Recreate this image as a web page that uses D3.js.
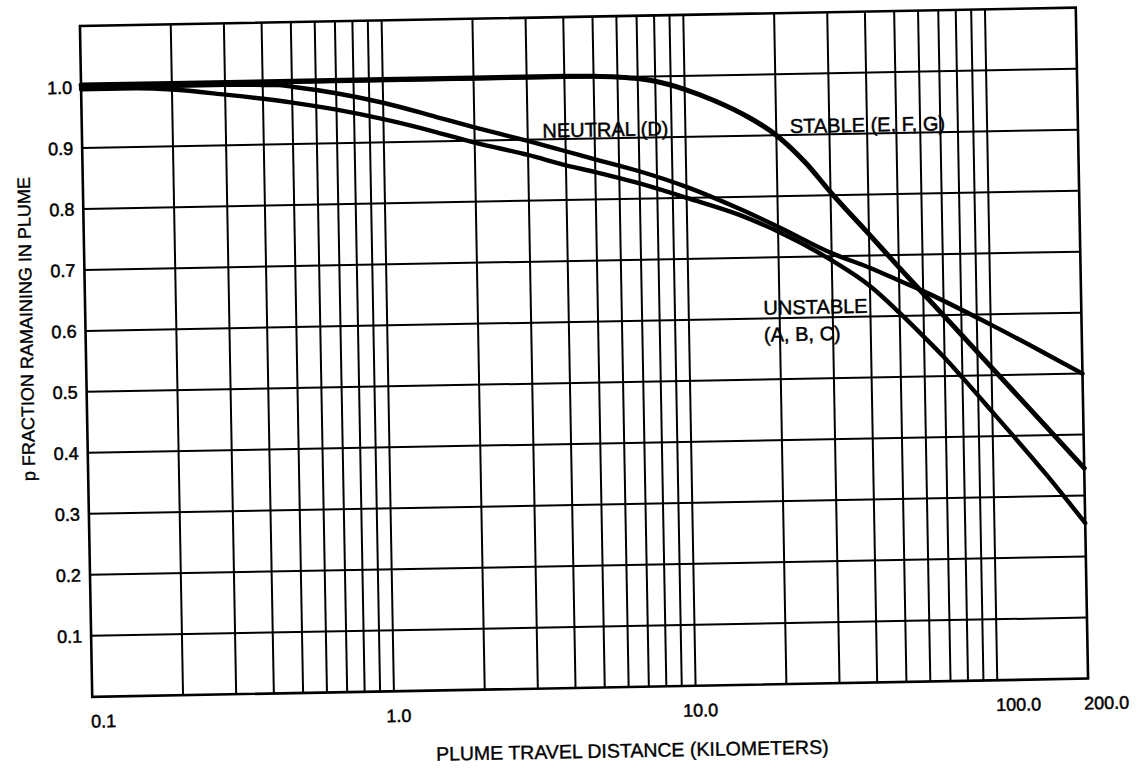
<!DOCTYPE html>
<html>
<head>
<meta charset="utf-8">
<script src="https://cdn.jsdelivr.net/npm/d3@7"></script>
<style>
  html, body { margin: 0; padding: 0; background: #fff; }
  svg { display: block; }
  text { font-family: "Liberation Sans", Arial, Helvetica, sans-serif; fill: #000; }
</style>
</head>
<body>
<svg id="chart" width="1140" height="771"></svg>
<script>
// ---------- data ----------
const xDomain = [0.1, 200];
const yDomain = [0, 1.1];

const xGridValues = [0.2,0.3,0.4,0.5,0.6,0.7,0.8,0.9,1,2,3,4,5,6,7,8,9,10,20,30,40,50,60,70,80,90,100];
const yGridValues = [0.1,0.2,0.3,0.4,0.5,0.6,0.7,0.8,0.9,1.0];

const xTickValues = [0.1, 1, 10, 100, 200];
const xTickLabels = ["0.1", "1.0", "10.0", "100.0", "200.0"];
const yTickValues = [0.1,0.2,0.3,0.4,0.5,0.6,0.7,0.8,0.9,1.0];
const yTickLabels = ["0.1","0.2","0.3","0.4","0.5","0.6","0.7","0.8","0.9","1.0"];

const stableX = [0.1, 0.5, 1, 2, 4, 5, 6, 7, 8, 10, 12.6, 16, 20, 25, 30, 40, 50, 60, 70, 80, 100, 150, 200];
const stableY = [1.003, 1.003, 1.003, 1.003, 1.003, 1.002, 1.0, 0.997, 0.992, 0.978, 0.958, 0.932, 0.9, 0.853, 0.805, 0.735, 0.68, 0.636, 0.599, 0.567, 0.513, 0.415, 0.345];

const neutralX = [0.1, 0.3, 0.45, 0.5, 0.7, 1, 1.5, 2, 3, 4, 5, 7, 10, 15, 20, 30, 40, 50, 60, 100, 150, 200];
const neutralY = [0.999, 0.999, 0.997, 0.994, 0.982, 0.965, 0.94, 0.922, 0.898, 0.88, 0.866, 0.845, 0.818, 0.78, 0.75, 0.705, 0.68, 0.658, 0.64, 0.583, 0.535, 0.50];

const unstableX = [0.1, 0.15, 0.2, 0.3, 0.5, 0.7, 1, 1.5, 2, 3, 4, 5, 7, 10, 15, 20, 30, 40, 50, 60, 70, 80, 100, 150, 200];
const unstableY = [0.996, 0.996, 0.993, 0.983, 0.968, 0.955, 0.938, 0.915, 0.897, 0.875, 0.857, 0.845, 0.825, 0.80, 0.77, 0.742, 0.693, 0.65, 0.605, 0.565, 0.53, 0.497, 0.44, 0.335, 0.255];

const curveLabels = [
  { text: "NEUTRAL (D)", x: 3.36, y: 0.903 },
  { text: "STABLE (E, F, G)", x: 22.2, y: 0.903 },
  { text: "UNSTABLE", x: 17.7, y: 0.606 },
  { text: "(A, B, C)", x: 17.7, y: 0.562 }
];

const xTitle = "PLUME TRAVEL DISTANCE (KILOMETERS)";
const yTitle = "p FRACTION RAMAINING IN PLUME";

// ---------- layout ----------
const W = 1140, H = 771;
const plot = { left: 86, right: 1082, top: 16.75, bottom: 687.75 };
const tilt = -1.05; // the scanned sheet is slightly rotated

const svg = d3.select("#chart");
const g = svg.append("g")
  .attr("transform", `rotate(${tilt}, ${(plot.left + plot.right) / 2}, ${(plot.top + plot.bottom) / 2})`);

const x = d3.scaleLog().domain(xDomain).range([plot.left, plot.right]);
const y = d3.scaleLinear().domain(yDomain).range([plot.bottom, plot.top]);

// grid
g.append("g").selectAll("line").data(xGridValues).join("line")
  .attr("x1", d => x(d)).attr("x2", d => x(d))
  .attr("y1", plot.top).attr("y2", plot.bottom)
  .attr("stroke", "#000").attr("stroke-width", 2);

g.append("g").selectAll("line").data(yGridValues).join("line")
  .attr("x1", plot.left).attr("x2", plot.right)
  .attr("y1", d => y(d)).attr("y2", d => y(d))
  .attr("stroke", "#000").attr("stroke-width", 2);

// frame
g.append("rect")
  .attr("x", plot.left).attr("y", plot.top)
  .attr("width", plot.right - plot.left).attr("height", plot.bottom - plot.top)
  .attr("fill", "none").attr("stroke", "#000").attr("stroke-width", 2.6);

// curves
const line = d3.line()
  .x(d => x(d[0])).y(d => y(d[1]))
  .curve(d3.curveMonotoneX);

const series = [
  { xs: unstableX, ys: unstableY, w: 4.4 },
  { xs: neutralX, ys: neutralY, w: 4.4 },
  { xs: stableX, ys: stableY, w: 5 }
];
g.append("g").selectAll("path").data(series).join("path")
  .attr("d", s => line(d3.zip(s.xs, s.ys)))
  .attr("fill", "none").attr("stroke", "#000")
  .attr("stroke-width", s => s.w)
  .attr("stroke-linejoin", "round").attr("stroke-linecap", "round");

// y tick labels
const yAxis = d3.axisLeft(y).tickValues(yTickValues)
  .tickFormat((d, i) => yTickLabels[i]).tickSize(0).tickPadding(9);
const ya = g.append("g").attr("transform", `translate(${plot.left},0)`).call(yAxis);
ya.select(".domain").remove();
ya.selectAll("text")
  .attr("font-size", 18).attr("font-family", '"Liberation Sans", Arial, sans-serif')
  .attr("stroke", "#000").attr("stroke-width", 0.5).attr("dy", "0.34em");

// x tick labels
const xAxis = d3.axisBottom(x).tickValues(xTickValues)
  .tickFormat((d, i) => xTickLabels[i]).tickSize(0).tickPadding(18);
const xa = g.append("g").attr("transform", `translate(0,${plot.bottom})`).call(xAxis);
xa.select(".domain").remove();
xa.selectAll("text")
  .attr("font-size", 18).attr("font-family", '"Liberation Sans", Arial, sans-serif')
  .attr("stroke", "#000").attr("stroke-width", 0.5)
  .attr("text-anchor", (d, i) => (i === 0 || i >= 3) ? "start" : "middle")
  .attr("dx", (d, i) => i === 0 ? -2 : (i === 3 ? -2 : (i === 4 ? -5 : 4)));

// curve labels
g.append("g").selectAll("text").data(curveLabels).join("text")
  .attr("x", d => x(d.x)).attr("y", d => y(d.y))
  .attr("font-size", 20)
  .attr("stroke", "#000").attr("stroke-width", 0.45)
  .text(d => d.text);

// axis titles
g.append("text")
  .attr("x", 625).attr("y", 758)
  .attr("text-anchor", "middle").attr("font-size", 19.5)
  .attr("stroke", "#000").attr("stroke-width", 0.35)
  .text(xTitle);

g.append("text")
  .attr("transform", `translate(33, 319) rotate(-90)`)
  .attr("text-anchor", "middle").attr("font-size", 18)
  .attr("stroke", "#000").attr("stroke-width", 0.35)
  .text(yTitle);
</script>
</body>
</html>
